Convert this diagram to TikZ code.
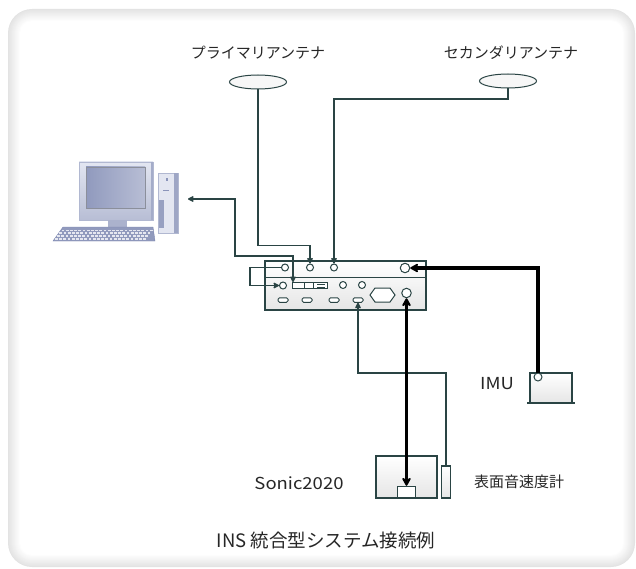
\documentclass[tikz,border=0pt]{standalone}
\usepackage{fontspec}
\setmainfont{Noto Sans CJK JP}
\newfontfamily\latinsans[FakeStretch=1.12]{Noto Sans CJK JP}
\usetikzlibrary{arrows.meta, shapes.geometric}

\definecolor{wire}{HTML}{2A4444}
\definecolor{pcblue}{HTML}{7D88B2}
\definecolor{pclight}{HTML}{E3E6F1}

\begin{document}
\begin{tikzpicture}[x=1pt, y=-1pt,
      wire/.style={draw=wire, line width=1.5pt, >={Stealth[round, length=7.5pt, width=7.5pt]}},
      cable/.style={draw=black, line width=3.2pt, >={Stealth[round, length=10pt, width=11pt]}},
      port/.style={circle, draw=wire, line width=1pt, fill=white, minimum size=7pt, inner sep=0pt},
      bigport/.style={port, minimum size=9.5pt},
      jack/.style={rectangle, rounded corners=1.5pt, draw=wire, line width=1pt, fill=white,
                   minimum width=10pt, minimum height=4.5pt, inner sep=0pt},
      antenna/.style={ellipse, draw=wire, line width=1pt, fill=black!3,
                      minimum width=57pt, minimum height=14pt, inner sep=0pt},
      unit/.style={draw=wire, line width=1.1pt, top color=white, bottom color=black!10, inner sep=0pt},
      jtext/.style={font=\fontsize{15}{18}\selectfont, text=black!85},
      ltext/.style={font=\latinsans\fontsize{16.5}{18}\selectfont, text=black!85}]
  \useasboundingbox (0,0) rectangle (636,569);

  % panel with soft grey rim
  \foreach \i [evaluate=\i as \tone using (12-\i)*0.9,
               evaluate=\i as \rad using 24-\i] in {0,...,12}
    \fill[black!\tone, rounded corners=\rad pt] (8+\i,9+\i) rectangle (635-\i,567-\i);

  % antennas
  \node[antenna] (ant_1) at (258,82) {};
  \node[antenna] (ant_2) at (508,81) {};
  \node[jtext] (ant_1_t) at (258,53) {プライマリアンテナ};
  \node[jtext] (ant_2_t) at (511,53) {セカンダリアンテナ};

  % computer
  \shade[top color=pclight, bottom color=pcblue!55, draw=pcblue!60] (79,162) rectangle (153,220);
  \fill[pcblue!70] (151,162) rectangle (153,220);
  \shade[shading=axis, shading angle=135, left color=pcblue!85, middle color=white, right color=pcblue!55,
         draw=pcblue!50!black!60] (86,167) rectangle (145,208);
  \fill[pcblue!65] (108,220) rectangle (127,228);
  \fill[pcblue!85, draw=pcblue] (63,227) -- (153,227) -- (155,241) -- (53,241) -- cycle;
  \foreach \r in {0,...,3}
    \foreach \k in {0,...,21}
      \fill[white!80!pcblue] (61.5+\k*4.2-\r*2.2,229.5+\r*2.8) rectangle ++(2.8,1.6);
  \fill[pclight, draw=pcblue!60] (158,173) rectangle (178,233);
  \fill[pcblue!75] (174,173) rectangle (178,233);
  \fill[pcblue!80] (159,200) rectangle (164,228);
  \fill[pcblue!90] (165.5,178) rectangle (168,181);
  \fill[pcblue!90] (163,190) rectangle (169,191.5);
  \coordinate (pc) at (188,199);

  % INS unit
  \node[unit, minimum width=161pt, minimum height=49pt] (ins) at (345.5,285.5) {};
  \draw[wire, line width=1pt] (265,277) -- (426,277);
  \node[port] (u_1) at (285,267.5) {};
  \node[port] (u_2) at (310,267.5) {};
  \node[port] (u_3) at (334,267.5) {};
  \node[bigport] (u_4) at (405,268) {};
  \node[port] (l_1) at (283,285.5) {};
  \node[rectangle, draw=wire, line width=1pt, fill=white, minimum width=35pt, minimum height=6.5pt,
        inner sep=0pt] (dvi) at (309.5,285.5) {};
  \draw[wire, line width=0.8pt] (304,283) -- (304,288) (313,283) -- (313,288)
        (317,284) -- (325,284) (317,287) -- (325,287);
  \node[port] (l_2) at (343,285) {};
  \node[port] (l_3) at (362,285) {};
  \draw[wire, line width=1pt, fill=white] (370,295) -- (375,288) -- (390,288) -- (395,295)
        -- (390,302) -- (375,302) -- cycle;
  \node[bigport] (l_4) at (406.5,293) {};
  \node[jack] (j_1) at (283,300) {};
  \node[jack] (j_2) at (307,300) {};
  \node[jack] (j_3) at (334,300) {};
  \node[jack] (j_4) at (358,300) {};

  % sonic2020 with surface sound velocity sensor
  \node[unit, minimum width=61pt, minimum height=42pt] (sonic) at (406.5,477) {};
  \node[rectangle, draw=wire, line width=1pt, fill=white, minimum width=18.5pt, minimum height=11.5pt,
        inner sep=0pt] (sonic_in) at (406.5,492) {};
  \node[unit, minimum width=9.5pt, minimum height=32pt] (probe) at (446,482) {};
  \node[ltext] (sonic_t) at (299,483) {Sonic2020};
  \node[jtext] (probe_t) at (519,482) {表面音速度計};

  % IMU
  \node[unit, minimum width=42pt, minimum height=30pt] (imu) at (551,388) {};
  \draw[wire, line width=2pt] (527,403) -- (575,403);
  \node[port, minimum size=8pt] (imu_p) at (538,377) {};
  \node[ltext] (imu_t) at (497,384) {IMU};

  % cabling
  \coordinate (bend_1) at (310,245.5);
  \coordinate (bend_2) at (334,99);
  \coordinate (loop_1) at (250,267.5);
  \coordinate (loop_2) at (250,285.5);
  \coordinate (pc_turn) at (235,256);
  \coordinate (dvi_in) at (293,282);
  \coordinate (probe_turn) at (446,373);
  \draw[wire, ->] (ant_1.south) |- (bend_1) -- (u_2.north);
  \draw[wire, ->] (ant_2.south) |- (bend_2) -- (u_3.north);
  \draw[wire, ->] (u_1.west) -- (loop_1) -- (loop_2) -- (l_1.west);
  \draw[wire, <->] (pc) -| (pc_turn) -| (dvi_in);
  \draw[wire, ->] (probe.north) -- (probe_turn) -| (j_4.south);
  \draw[cable, <->] (l_4.south) -- (sonic_in.north);
  \draw[cable, ->] (imu_p.north) |- (u_4.east);

  \node[font=\fontsize{18.5}{22}\selectfont, text=black!85] (title) at (326,540) {INS 統合型システム接続例};
\end{tikzpicture}
\end{document}
